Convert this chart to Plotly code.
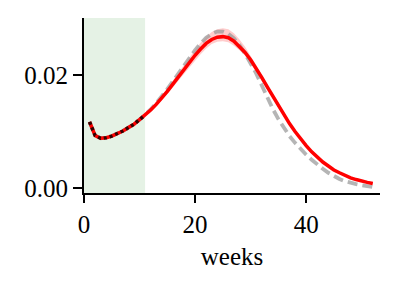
import plotly.graph_objects as go

weeks = list(range(1, 53))

model = [0.0117, 0.0093, 0.0088, 0.0089, 0.0092, 0.0096, 0.0101, 0.0107, 0.0113, 0.0121,
         0.0129, 0.0138, 0.0148, 0.0159, 0.0171, 0.0184, 0.0197, 0.0210, 0.0223, 0.0235,
         0.0246, 0.0256, 0.0263, 0.0267, 0.0268, 0.0266, 0.0260, 0.0251, 0.0240, 0.0227,
         0.0212, 0.0196, 0.0179, 0.0162, 0.0145, 0.0129, 0.0114, 0.0100, 0.0087, 0.0075,
         0.0064, 0.0054, 0.0046, 0.0039, 0.0032, 0.0027, 0.0022, 0.0018, 0.0015, 0.0012,
         0.0010, 0.0008]

reference = [0.0117, 0.0093, 0.0088, 0.0089, 0.0092, 0.0096, 0.0101, 0.0107, 0.0113, 0.0121,
             0.0129, 0.0139, 0.0150, 0.0162, 0.0175, 0.0189, 0.0203, 0.0217, 0.0231, 0.0244,
             0.0256, 0.0266, 0.0273, 0.0277, 0.0277, 0.0273, 0.0265, 0.0253, 0.0238, 0.0221,
             0.0203, 0.0182, 0.0160, 0.0140, 0.0122, 0.0106, 0.0092, 0.0080, 0.0069, 0.0059,
             0.0050, 0.0041, 0.0034, 0.0027, 0.0021, 0.0016, 0.0012, 0.0009, 0.0007, 0.0005,
             0.0003, 0.0002]

band_upper = [0.0119, 0.0095, 0.0090, 0.0091, 0.0094, 0.0098, 0.0103, 0.0109, 0.0115, 0.0123,
              0.0131, 0.0141, 0.0151, 0.0163, 0.0176, 0.0190, 0.0204, 0.0218, 0.0232, 0.0245,
              0.0257, 0.0268, 0.0276, 0.0281, 0.0283, 0.0281, 0.0274, 0.0263, 0.0250, 0.0235,
              0.0218, 0.0201, 0.0183, 0.0165, 0.0148, 0.0131, 0.0116, 0.0102, 0.0089, 0.0077,
              0.0066, 0.0056, 0.0047, 0.0040, 0.0033, 0.0028, 0.0023, 0.0019, 0.0016, 0.0013,
              0.0011, 0.0009]

band_lower = [0.0115, 0.0091, 0.0086, 0.0087, 0.0090, 0.0094, 0.0099, 0.0105, 0.0111, 0.0119,
              0.0127, 0.0135, 0.0145, 0.0155, 0.0166, 0.0178, 0.0190, 0.0202, 0.0214, 0.0226,
              0.0237, 0.0247, 0.0255, 0.0259, 0.0260, 0.0258, 0.0252, 0.0244, 0.0234, 0.0221,
              0.0207, 0.0191, 0.0175, 0.0159, 0.0142, 0.0127, 0.0112, 0.0098, 0.0085, 0.0073,
              0.0062, 0.0052, 0.0045, 0.0038, 0.0031, 0.0026, 0.0021, 0.0017, 0.0014, 0.0011,
              0.0009, 0.0007]

fit_end = 11
shade_range = [0, 11]

x_ticks = [0, 20, 40]
y_ticks = [0.00, 0.02]

FONT = "Liberation Serif"

fig = go.Figure()

fig.add_vrect(x0=shade_range[0], x1=shade_range[1], fillcolor="rgba(0,128,0,0.1)",
              line_width=0, layer="below")

fig.add_trace(go.Scatter(x=weeks + weeks[::-1], y=band_upper + band_lower[::-1],
                         fill="toself", fillcolor="rgba(255,0,0,0.2)",
                         line=dict(width=0), mode="lines", hoverinfo="skip",
                         showlegend=False))

fig.add_trace(go.Scatter(x=weeks, y=reference, mode="lines",
                         line=dict(color="rgba(150,150,150,0.7)", width=3.8, dash="10px,5px"),
                         showlegend=False))

fig.add_trace(go.Scatter(x=weeks, y=model, mode="lines",
                         line=dict(color="#ff0000", width=3.5), showlegend=False))

fw = [w for w in weeks if w <= fit_end]
fig.add_trace(go.Scatter(x=fw, y=model[:len(fw)], mode="lines",
                         line=dict(color="rgba(0,0,0,0.8)", width=3.5, dash="3px,3px"),
                         showlegend=False))

fig.update_layout(
    width=398, height=290,
    margin=dict(l=84, r=18, t=18, b=97),
    paper_bgcolor="white", plot_bgcolor="white",
    font=dict(family=FONT, size=25, color="black"),
    showlegend=False,
)

fig.update_xaxes(range=[0, 53.3], tickvals=x_ticks, ticktext=[str(t) for t in x_ticks],
                 showgrid=False, zeroline=False, showline=True, linecolor="black",
                 linewidth=2, ticks="outside", ticklen=8, tickwidth=2, tickcolor="black",
                 automargin=False,
                 title=dict(text="weeks", standoff=10, font=dict(family=FONT, size=25)),
                 tickfont=dict(family=FONT, size=25))

fig.update_yaxes(range=[-0.00088, 0.0301], tickvals=y_ticks,
                 ticktext=["0.00", "0.02"], automargin=False,
                 showgrid=False, zeroline=False, showline=True, linecolor="black",
                 linewidth=2, ticks="outside", ticklen=9, tickwidth=2, tickcolor="black",
                 tickfont=dict(family=FONT, size=25))

fig.write_html("out.html", config={"displayModeBar": False},
               post_script="document.body.style.margin='0';")
